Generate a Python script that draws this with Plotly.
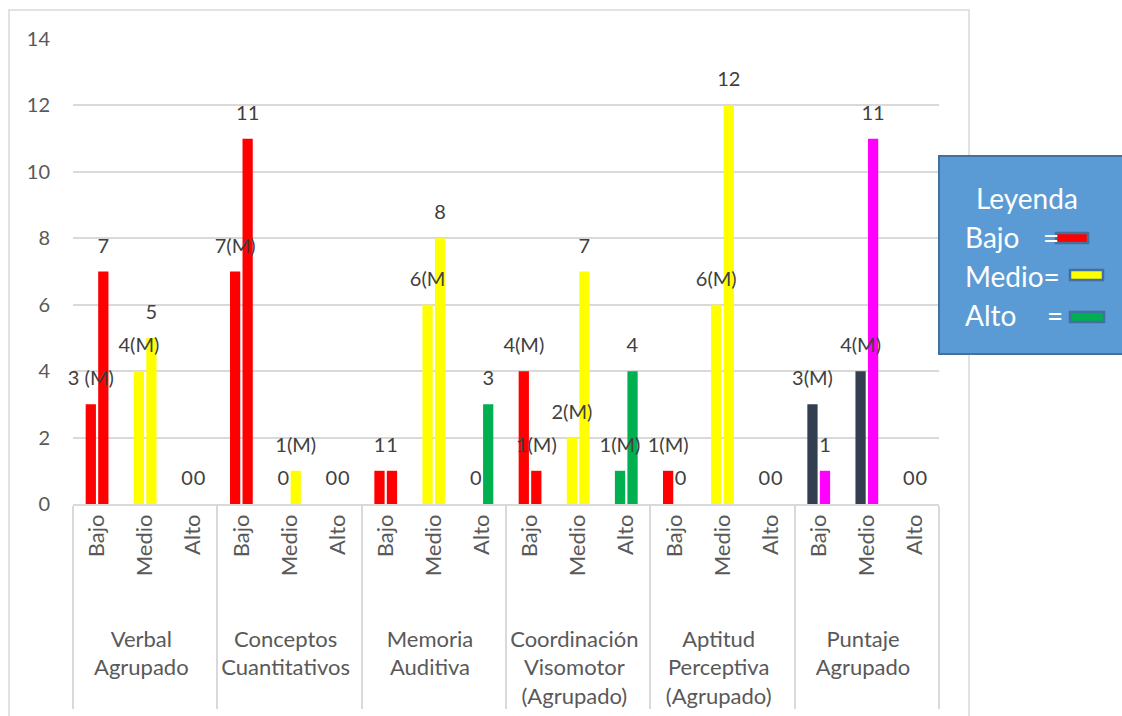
import plotly.graph_objects as go

groups = ["Verbal<br>Agrupado", "Conceptos<br>Cuantitativos", "Memoria<br>Auditiva",
          "Coordinación<br>Visomotor<br>(Agrupado)", "Aptitud<br>Perceptiva<br>(Agrupado)",
          "Puntaje<br>Agrupado"]
levels = ["Bajo", "Medio", "Alto"]

m_values = [3, 4, 0, 7, 0, 0, 1, 6, 0, 4, 2, 1, 1, 6, 0, 3, 4, 0]
m_labels = ["3 (M)", "4(M)", "0", "7(M)", "0", "0", "1", "6(M", "0",
            "4(M)", "2(M)", "1(M)", "1(M)", "6(M)", "0", "3(M)", "4(M)", "0"]
s2_values = [7, 5, 0, 11, 1, 0, 1, 8, 3, 1, 7, 4, 0, 12, 0, 1, 11, 0]
s2_labels = ["7", "5", "0", "11", "1(M)", "0", "1", "8", "3",
             "1(M)", "7", "4", "0", "12", "0", "1", "11", "0"]

y_ticks = [0, 2, 4, 6, 8, 10, 12, 14]

legend_title = "Leyenda"
legend_items = ["Bajo", "Medio", "Alto"]

RED, YELLOW, GREEN = "#FF0000", "#FFFF00", "#00B050"
DARK, MAGENTA = "#333F50", "#FF00FF"
level_colors = [RED, YELLOW, GREEN]

x_outer = ["<br>" + g for g in groups for _ in levels]
x_inner = [l for _ in groups for l in levels]

m_colors = [DARK if "Puntaje" in g else level_colors[i % 3] for i, g in enumerate(x_outer)]
s2_colors = [MAGENTA if "Puntaje" in g else level_colors[i % 3] for i, g in enumerate(x_outer)]

FONT = "Lato"
LABEL_PAD = 0.36  # label gap above bar (axis units), style only
fig = go.Figure()
for vals, cols, og in [(m_values, m_colors, "a"), (s2_values, s2_colors, "b")]:
    fig.add_trace(go.Bar(x=[x_outer, x_inner], y=vals, offsetgroup=og,
                         marker=dict(color=cols, line=dict(width=0)), hoverinfo="y"))
for vals, labs, og in [(m_values, m_labels, "a"), (s2_values, s2_labels, "b")]:
    fig.add_trace(go.Bar(x=[x_outer, x_inner], y=[LABEL_PAD] * len(vals), base=vals,
                         offsetgroup=og, text=labs, textposition="outside",
                         constraintext="none", cliponaxis=False, hoverinfo="skip",
                         textfont=dict(family=FONT, size=20, color="#404040"),
                         marker=dict(color="rgba(0,0,0,0)", line=dict(width=0))))

W, H = 1122, 716
L, T = 73, 39
R = W - 939
B = H - 504
pw, ph = W - L - R, H - T - B

def px(x):
    return (x - L) / pw

def py(y):
    return (H - B - y) / ph

shapes = [
    dict(type="rect", xref="paper", yref="paper", x0=px(9), x1=px(969), y0=py(740), y1=py(10),
         line=dict(color="#D9D9D9", width=1.5), fillcolor="rgba(0,0,0,0)", layer="below"),
    dict(type="rect", xref="paper", yref="paper", x0=px(939), x1=px(1140), y0=py(354), y1=py(156),
         line=dict(color="#41719C", width=2), fillcolor="#5B9BD5", layer="above"),
]
sw = [(1056, 1088, 233, 243, RED), (1070, 1103, 270, 280, YELLOW), (1070, 1104, 312, 322, GREEN)]
for x0, x1, y0, y1, c in sw:
    shapes.append(dict(type="rect", xref="paper", yref="paper", x0=px(x0), x1=px(x1),
                       y0=py(y1), y1=py(y0), line=dict(color="#41719C", width=2.5),
                       fillcolor=c, layer="above"))

ann = []
def txt(t, x, y, anchor="left"):
    ann.append(dict(text=t, xref="paper", yref="paper", x=px(x), y=py(y), xanchor=anchor,
                    yanchor="middle", showarrow=False,
                    font=dict(family=FONT, size=28, color="white")))

txt(legend_title, 1027, 198, "center")
txt(legend_items[0], 963, 237)
txt("=", 1041, 237)
txt(legend_items[1] + "=", 963, 276)
txt(legend_items[2], 963, 315)
txt("=", 1045, 315)

fig.update_layout(
    width=W, height=H, margin=dict(l=L, r=R, t=T, b=B),
    paper_bgcolor="white", plot_bgcolor="white",
    barmode="group", bargap=0.48, bargroupgap=0.18, showlegend=False,
    font=dict(family=FONT, size=20, color="#595959"),
    shapes=shapes, annotations=ann,
)
fig.update_xaxes(type="multicategory", tickangle=-90, showline=True, linecolor="#D9D9D9",
                 linewidth=1.5, ticks="", showdividers=True, dividercolor="#D9D9D9",
                 dividerwidth=1.5, tickfont=dict(family=FONT, size=22, color="#595959"),
                 showgrid=False, automargin=False)
fig.update_yaxes(range=[0, 14], tickvals=y_ticks, showgrid=True, gridcolor="#D9D9D9",
                 gridwidth=1.5, zeroline=False, showline=False, ticks="",
                 ticklabelstandoff=22, automargin=False,
                 tickfont=dict(family=FONT, size=20, color="#595959"))

fig.write_html("out.html", config={"displayModeBar": False}, post_script=(
    "document.body.style.margin='0px';"
    "document.body.style.overflow='hidden';"
    "document.documentElement.style.overflow='hidden';"))
